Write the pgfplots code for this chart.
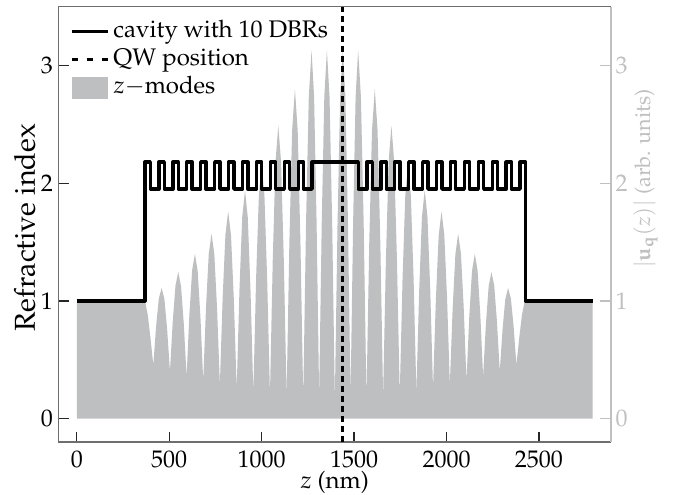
\documentclass[border=0pt]{standalone}
\usepackage[T1]{fontenc}
\usepackage{mathpazo}
\usepackage{pgfplots}
\pgfplotsset{compat=1.18}
\definecolor{fieldgray}{RGB}{190,191,193}
\definecolor{axgray}{RGB}{110,110,110}
\definecolor{rgray}{RGB}{192,192,192}
\tikzset{legendtext/.style={anchor=west, inner sep=0pt, text height=7pt, text depth=2.3pt}}
\begin{document}
\begin{tikzpicture}
\begin{axis}[
  name=main,
  scale only axis, width=230.4pt, height=181.5pt,
  xmin=-100, xmax=2890, ymin=-0.2, ymax=3.5,
  axis x line=box, axis y line=left,
  axis line style={-, axgray, line width=0.6pt},
  xtick={0,500,1000,1500,2000,2500}, ytick={0,1,2,3},
  xtick pos=bottom, ytick pos=left,
  tick align=inside, major tick length=4.4pt,
  tick style={black!85, line width=0.5pt},
  /pgf/number format/1000 sep={},
  xticklabel style={inner ysep=0pt, yshift=-3.5pt},
  yticklabel style={inner xsep=2.1pt},
  xlabel={$z$ (nm)},
  ylabel={\large Refractive index},
  xlabel style={at={(axis description cs:0.5,0)}, anchor=base, yshift=-19.5pt},
  ylabel style={at={(axis description cs:-0.0422,0.235)}, anchor=base west},
]
\addplot[draw=none, fill=fieldgray, forget plot] coordinates {
(0,0) (0,1) (369,1) (384,0.88) (399,0.68) (414,0.456)
(429,0.783) (444,1.022) (459,1.11)
(474,1.015) (489,0.755) (504,0.40)
(519,0.823) (534,1.132) (549,1.245)
(564,1.126) (579,0.801) (594,0.357)
(609,0.879) (624,1.260) (639,1.40)
(654,1.255) (669,0.86) (684,0.32)
(699,0.945) (714,1.403) (729,1.57)
(744,1.398) (759,0.929) (774,0.287)
(789,1.024) (804,1.563) (819,1.76)
(834.3,1.558) (849.7,1.007) (865,0.253)
(880,1.097) (895,1.714) (910,1.94)
(925,1.710) (940,1.08) (955,0.22)
(970,1.19) (985,1.900) (1000,2.16)
(1015,1.897) (1030,1.18) (1045,0.20)
(1060,1.345) (1075,2.183) (1090,2.49)
(1105,2.182) (1120,1.34) (1135,0.19)
(1150,1.495) (1165,2.450) (1180,2.80)
(1195,2.448) (1210,1.485) (1225,0.17)
(1240,1.65) (1255,2.733) (1270,3.13)
(1283.7,2.736) (1297.3,1.66) (1311,0.19)
(1325,1.66) (1339,2.736) (1353,3.13)
(1367.3,2.732) (1381.7,1.645) (1396,0.16)
(1410.3,1.645) (1424.7,2.732) (1439,3.13)
(1453,2.736) (1467,1.66) (1481,0.19)
(1494.7,1.66) (1508.3,2.736) (1522,3.13)
(1537,2.733) (1552,1.65) (1567,0.17)
(1582,1.485) (1597,2.448) (1612,2.80)
(1627,2.450) (1642,1.495) (1657,0.19)
(1672,1.34) (1687,2.182) (1702,2.49)
(1717,2.183) (1732,1.345) (1747,0.20)
(1762,1.18) (1777,1.897) (1792,2.16)
(1807,1.900) (1822,1.19) (1837,0.22)
(1852,1.08) (1867,1.710) (1882,1.94)
(1897,1.714) (1912,1.097) (1927,0.253)
(1942.3,1.007) (1957.7,1.558) (1973,1.76)
(1988,1.563) (2003,1.024) (2018,0.287)
(2033,0.929) (2048,1.398) (2063,1.57)
(2078,1.403) (2093,0.945) (2108,0.32)
(2123,0.86) (2138,1.255) (2153,1.40)
(2168,1.260) (2183,0.879) (2198,0.357)
(2213,0.801) (2228,1.126) (2243,1.245)
(2258,1.132) (2273,0.823) (2288,0.40)
(2303,0.755) (2318,1.015) (2333,1.11)
(2348,1.022) (2363,0.783) (2378,0.456)
(2393,0.68) (2408,0.88) (2423,1) (2790,1) (2790,0)
} \closedcycle;
\addplot[const plot, black, line width=1.4pt, line join=round, forget plot] coordinates {
(0,1)
(369,2.18) (398,1.95) (444.33,2.18) (473.33,1.95) (519.67,2.18) (548.67,1.95)
(595,2.18) (624,1.95) (670.33,2.18) (699.33,1.95) (745.67,2.18) (774.67,1.95)
(821,2.18) (850,1.95) (896.33,2.18) (925.33,1.95) (971.67,2.18) (1000.67,1.95)
(1047,2.18) (1076,1.95) (1122.33,2.18) (1151.33,1.95) (1197.67,2.18) (1226.67,1.95)
(1273,2.18)
(1523,1.95) (1569.33,2.18) (1598.33,1.95) (1644.67,2.18) (1673.67,1.95) (1720,2.18)
(1749,1.95) (1795.33,2.18) (1824.33,1.95) (1870.67,2.18) (1899.67,1.95) (1946,2.18)
(1975,1.95) (2021.33,2.18) (2050.33,1.95) (2096.67,2.18) (2125.67,1.95) (2172,2.18)
(2201,1.95) (2247.33,2.18) (2276.33,1.95) (2322.67,2.18) (2351.67,1.95) (2398,2.18)
(2427,1) (2790,1)
};
\addplot[black, line width=1.25pt, dash pattern=on 2.5pt off 1.67pt, forget plot] coordinates {(1438,-0.2) (1438,3.5)};
% legend
\draw[black, line width=1.4pt] (axis description cs:0.02424,0.9426) -- (axis description cs:0.0899,0.9426);
\node[legendtext] at (axis description cs:0.0990,0.9426) {cavity with 10 DBRs};
\draw[black, line width=1.25pt, dash pattern=on 2.8pt off 3.45pt] (axis description cs:0.02424,0.8777) -- (axis description cs:0.0899,0.8777);
\node[legendtext] at (axis description cs:0.0990,0.8777) {QW position};
\fill[fieldgray] (axis description cs:0.02424,0.7881) rectangle (axis description cs:0.0899,0.8386);
\node[legendtext] at (axis description cs:0.0990,0.8134) {$z-$modes};
\end{axis}
\begin{axis}[
  scale only axis, width=230.4pt, height=181.5pt,
  xmin=-100, xmax=2890, ymin=-0.2, ymax=3.5,
  hide x axis, axis y line=right,
  axis line style={-, rgray, line width=0.6pt},
  ytick={0,1,2,3}, tick align=inside, major tick length=4.4pt,
  tick style={rgray, line width=0.5pt},
  yticklabel style={text=rgray, inner xsep=1.7pt},
  ylabel={\fontsize{9}{11}\selectfont $|\mathbf{u}_{\mathbf{q}}(z)|$ (arb. units)},
  ylabel style={text=rgray, at={(axis description cs:1.0706,0.380)}, anchor=base west},
]
\end{axis}
\pgfresetboundingbox
\path ([shift={(-24.3pt,-21.96pt)}]main.south west) rectangle ([shift={(25.83pt,2.79pt)}]main.north east);
\end{tikzpicture}
\end{document}
